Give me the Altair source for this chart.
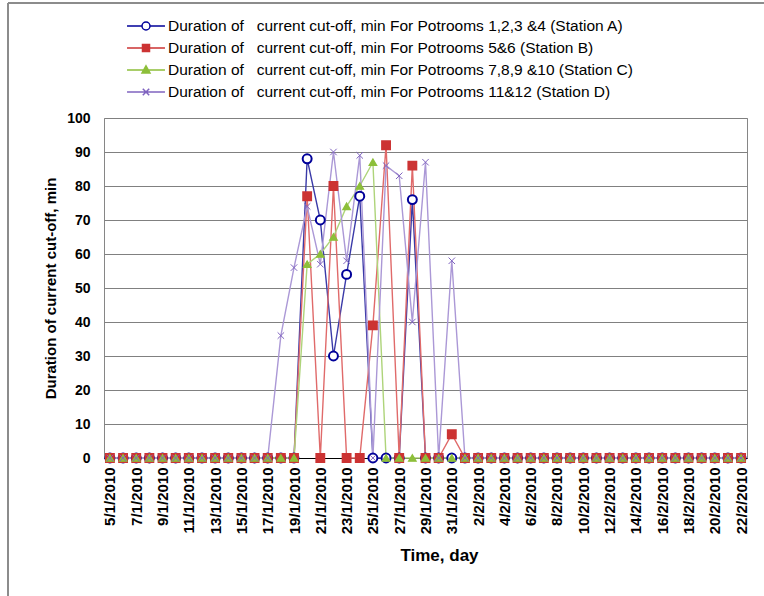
import altair as alt
import pandas as pd

# Daily categories, 5 Jan 2010 .. 22 Feb 2010
dates = [f"{d.day}/{d.month}/{d.year}" for d in pd.date_range("2010-01-05", "2010-02-22", freq="D")]

# Duration of current cut-off (min) per station, one value per day
station_a = [0, 0, 0, 0, 0, 0, 0, 0, 0, 0, 0, 0, 0, 0, 0,
             88, 70, 30, 54, 77, 0, 0, 0, 76, 0, 0, 0,
             0, 0, 0, 0, 0, 0, 0, 0, 0, 0, 0, 0, 0, 0, 0, 0, 0, 0, 0, 0, 0, 0]
station_b = [0, 0, 0, 0, 0, 0, 0, 0, 0, 0, 0, 0, 0, 0, 0,
             77, 0, 80, 0, 0, 39, 92, 0, 86, 0, 0, 7,
             0, 0, 0, 0, 0, 0, 0, 0, 0, 0, 0, 0, 0, 0, 0, 0, 0, 0, 0, 0, 0, 0]
station_c = [0, 0, 0, 0, 0, 0, 0, 0, 0, 0, 0, 0, 0, 0, 0,
             57, 60, 65, 74, 80, 87, 0, 0, 0, 0, 0, 0,
             0, 0, 0, 0, 0, 0, 0, 0, 0, 0, 0, 0, 0, 0, 0, 0, 0, 0, 0, 0, 0, 0]
station_d = [0, 0, 0, 0, 0, 0, 0, 0, 0, 0, 0, 0, 0, 36, 56,
             74, 57, 90, 58, 89, 0, 86, 83, 40, 87, 0, 58,
             0, 0, 0, 0, 0, 0, 0, 0, 0, 0, 0, 0, 0, 0, 0, 0, 0, 0, 0, 0, 0, 0]

gap = "\u00a0\u00a0\u00a0"
series_names = [
    f"Duration of{gap}current cut-off, min For Potrooms 1,2,3 &4 (Station A)",
    f"Duration of{gap}current cut-off, min For Potrooms 5&6 (Station B)",
    f"Duration of{gap}current cut-off, min For Potrooms 7,8,9 &10 (Station C)",
    f"Duration of{gap}current cut-off, min For Potrooms 11&12 (Station D)",
]
series_values = [station_a, station_b, station_c, station_d]

marker_colors = ["#000099", "#cc3333", "#8dbf3a", "#8064c0"]
line_colors = ["#3a3aa8", "#e06a6a", "#aed47a", "#ab98d6"]
marker_fills = ["#ffffff", "#cc3333", "#8dbf3a", "transparent"]
marker_shapes = ["circle", "square", "triangle-up", "M-1,-1L1,1M-1,1L1,-1"]
marker_sizes = [80, 42, 50, 40]
marker_widths = [2, 1, 1, 1.3]

# Legend keys: a short line with the series marker in the middle
# (path units are 7 px at the legend symbol size of 196)
legend_shapes = [
    "M-2.71,0L-0.57,0M0.57,0L2.71,0M-0.57,0A0.57,0.57,0,1,1,0.57,0A0.57,0.57,0,1,1,-0.57,0Z",
    "M-2.71,0L2.71,0M-0.5,-0.5L0.5,-0.5L0.5,0.5L-0.5,0.5Z",
    "M-2.71,0L2.71,0M0,-0.6L0.57,0.42L-0.57,0.42Z",
    "M-2.71,0L2.71,0M-0.46,-0.46L0.46,0.46M-0.46,0.46L0.46,-0.46",
]

rows = []
for name, values in zip(series_names, series_values):
    for day, v in zip(dates, values):
        rows.append({"series": name, "date": day, "minutes": v})
df = pd.DataFrame(rows)

FONT = "Liberation Sans"

x_enc = alt.X(
    "date:O",
    sort=dates,
    scale=alt.Scale(type="point", padding=0.45),
    axis=alt.Axis(
        values=dates[::2],
        labelAngle=-90,
        labelFont=FONT,
        labelFontSize=15,
        labelFontWeight="bold",
        labelColor="#000000",
        labelPadding=9,
        labelOverlap=False,
        ticks=False,
        tickSize=0,
        domain=True,
        domainColor="#000000",
        domainWidth=1,
        grid=False,
        title="Time, day",
        titleFont=FONT,
        titleFontSize=17,
        titleFontWeight="bold",
        titleColor="#000000",
        titleX=335,
        titleY=97,
        titleBaseline="middle",
    ),
)
y_enc = alt.Y(
    "minutes:Q",
    scale=alt.Scale(domain=[0, 100], nice=False),
    axis=alt.Axis(
        values=list(range(0, 101, 10)),
        labelFont=FONT,
        labelFontSize=14,
        labelFontWeight="bold",
        labelColor="#000000",
        labelPadding=14,
        labelOverlap=False,
        ticks=False,
        tickSize=0,
        domain=False,
        grid=True,
        gridColor="#808080",
        gridWidth=1,
        title="Duration of current cut-off, min",
        titleFont=FONT,
        titleFontSize=15,
        titleFontWeight="bold",
        titleColor="#000000",
        titleX=-54,
        titleY=170,
        titleBaseline="middle",
        titleAngle=270,
    ),
)

lines = alt.Chart(df).mark_line(strokeWidth=1.4).encode(
    x=x_enc,
    y=y_enc,
    stroke=alt.Stroke("series:N", scale=alt.Scale(domain=series_names, range=line_colors), legend=None),
    detail="series:N",
)

points = alt.Chart(df).mark_point(opacity=1).encode(
    x=x_enc,
    y=y_enc,
    shape=alt.Shape("series:N", scale=alt.Scale(domain=series_names, range=marker_shapes), legend=None),
    stroke=alt.Stroke("series:N", scale=alt.Scale(domain=series_names, range=marker_colors), legend=None),
    fill=alt.Fill("series:N", scale=alt.Scale(domain=series_names, range=marker_fills), legend=None),
    size=alt.Size("series:N", scale=alt.Scale(domain=series_names, range=marker_sizes), legend=None),
    strokeWidth=alt.StrokeWidth("series:N", scale=alt.Scale(domain=series_names, range=marker_widths), legend=None),
)

key_legend = alt.Legend(
    orient="none",
    legendX=22,
    legendY=-100,
    direction="vertical",
    padding=0,
    rowPadding=5,
    labelFont=FONT,
    labelFontSize=15.5,
    labelColor="#000000",
    labelLimit=800,
    labelOffset=14,
    symbolSize=196,
    symbolStrokeWidth=1.5,
    symbolOffset=12,
)

legend_layer = alt.Chart(df).transform_filter("false").mark_point(size=196, strokeWidth=1.5, opacity=1).encode(
    x=x_enc,
    y=y_enc,
    shape=alt.Shape("series:N", scale=alt.Scale(domain=series_names, range=legend_shapes), legend=key_legend, title=None),
    stroke=alt.Stroke("series:N", scale=alt.Scale(domain=series_names, range=marker_colors), legend=key_legend, title=None),
    fill=alt.Fill("series:N", scale=alt.Scale(domain=series_names, range=marker_fills), legend=key_legend, title=None),
)

# Outer frame of the figure (left and top edges)
frame_df = pd.DataFrame({"k": [0]})
frame_left = alt.Chart(frame_df).mark_rule(color="#8c8c8c", strokeWidth=2).encode(
    x=alt.value(-96), y=alt.value(-115), y2=alt.value(478)
)
frame_top = alt.Chart(frame_df).mark_rule(color="#8c8c8c", strokeWidth=2).encode(
    x=alt.value(-96), x2=alt.value(660), y=alt.value(-115)
)

chart = (
    alt.layer(frame_left, frame_top, lines, points, legend_layer)
    .resolve_scale(shape="independent", stroke="independent", fill="independent", size="independent", strokeWidth="independent")
    .properties(
        width=643,
        height=340,
        autosize=alt.AutoSizeParams(type="none"),
        padding={"left": 104, "top": 118, "right": 17, "bottom": 138},
        background="#ffffff",
    )
    .configure_view(stroke="#868686", strokeWidth=1)
)

chart.save("out.html", embed_options={"renderer": "svg", "actions": False})
